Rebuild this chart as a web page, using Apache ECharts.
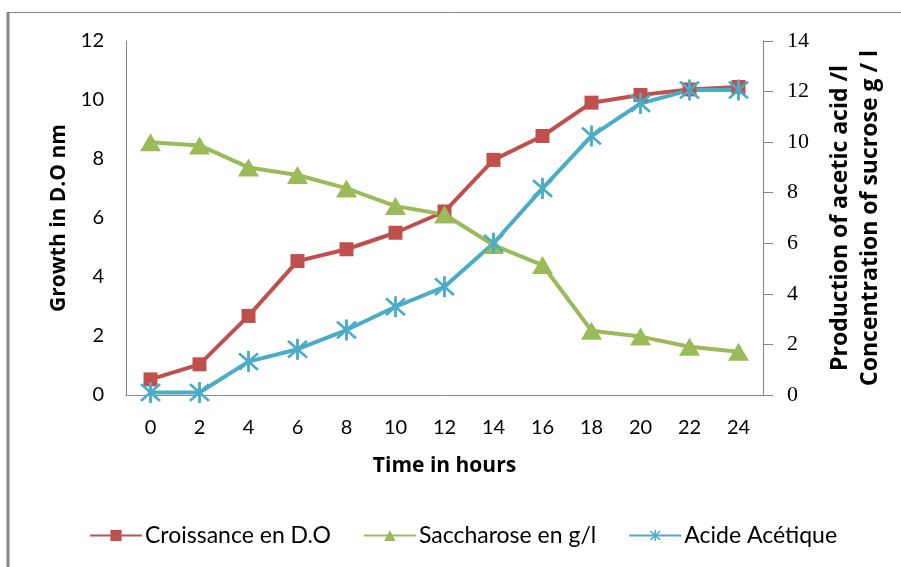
<!DOCTYPE html>
<html>
<head>
<meta charset="utf-8">
<script src="https://cdn.jsdelivr.net/npm/echarts@6/dist/echarts.min.js"></script>
<style>html,body{margin:0;padding:0;background:#fff}#c{width:901px;height:567px}</style>
</head>
<body>
<div id="c"></div>
<script>
var hours = ['0','2','4','6','8','10','12','14','16','18','20','22','24'];
var croissance = [0.53, 1.04, 2.68, 4.54, 4.94, 5.50, 6.22, 7.97, 8.78, 9.91, 10.17, 10.36, 10.44];
var saccharose = [10.0, 9.87, 9.0, 8.70, 8.17, 7.47, 7.14, 5.93, 5.14, 2.54, 2.31, 1.91, 1.71];
var acide = [0.1, 0.1, 1.32, 1.81, 2.57, 3.49, 4.28, 6.0, 8.17, 10.24, 11.53, 12.06, 12.06];
var seriesNames = ['Croissance en D.O', 'Saccharose en g/l', 'Acide Acétique'];

var star = 'path://M8.8,0 L11.2,0 L11.2,20 L8.8,20 Z M2.9,1.2 L18.8,17.1 L17.1,18.8 L1.2,2.9 Z M17.1,1.2 L18.8,2.9 L2.9,18.8 L1.2,17.1 Z';
var font = 'Lato';
var nameFont = 'Open Sans';
var chart = echarts.init(document.getElementById('c'), null, {renderer: 'canvas'});
chart.setOption({
  animation: false,
  backgroundColor: '#fff',
  graphic: [
    {type: 'line', shape: {x1: 8, y1: 567, x2: 8, y2: 12}, style: {stroke: '#868686', lineWidth: 3}},
    {type: 'line', shape: {x1: 8, y1: 12.5, x2: 901, y2: 12.5}, style: {stroke: '#868686', lineWidth: 1}}
  ],
  grid: {left: 126, right: 138, top: 41, bottom: 172, containLabel: false},
  legend: {
    left: 89, top: 524, padding: 0,
    itemWidth: 52, itemHeight: 14, itemGap: 32,
    textStyle: {fontFamily: font, fontSize: 23, color: '#000', padding: [0, 0, 0, -2]},
    data: seriesNames
  },
  xAxis: {
    type: 'category', data: hours, boundaryGap: true,
    name: 'Time in hours', nameLocation: 'middle', nameGap: 61,
    nameTextStyle: {fontFamily: nameFont, fontSize: 21, fontWeight: 'bold', color: '#000'},
    axisLine: {lineStyle: {color: '#868686', width: 1}},
    axisTick: {show: false},
    axisLabel: {fontFamily: font, fontSize: 20, color: '#000', margin: 23}
  },
  yAxis: [{
    type: 'value', min: 0, max: 12, interval: 2, position: 'left',
    name: 'Growth in D.O nm', nameLocation: 'middle', nameGap: 56,
    nameTextStyle: {fontFamily: nameFont, fontSize: 21, fontWeight: 'bold', color: '#000'},
    axisLine: {show: true, lineStyle: {color: '#868686', width: 1}},
    axisTick: {show: false},
    splitLine: {show: false},
    axisLabel: {fontFamily: font, fontSize: 20, color: '#000', margin: 22}
  }, {
    type: 'value', min: 0, max: 14, interval: 2, position: 'right',
    name: '{a|Production of acetic acid /l}\n{b|Concentration of sucrose g / l}',
    nameLocation: 'middle', nameGap: 62,
    nameTextStyle: {
      color: '#000',
      rich: {
        a: {fontFamily: nameFont, fontSize: 23, fontWeight: 'bold', lineHeight: 30, color: '#000'},
        b: {fontFamily: nameFont, fontSize: 23, fontWeight: 'bold', lineHeight: 30, color: '#000'}
      }
    },
    axisLine: {show: true, lineStyle: {color: '#868686', width: 1}},
    axisTick: {show: true, inside: false, length: 10, lineStyle: {color: '#868686'}},
    splitLine: {show: false},
    axisLabel: {fontFamily: 'Liberation Serif', fontSize: 22, color: '#000', margin: 24}
  }],
  series: [{
    name: seriesNames[0], type: 'line', yAxisIndex: 0, data: croissance,
    symbol: 'rect', symbolSize: 14,
    itemStyle: {color: '#C0504D'},
    lineStyle: {color: '#C0504D', width: 4}
  }, {
    name: seriesNames[1], type: 'line', yAxisIndex: 1, data: saccharose,
    symbol: 'triangle', symbolSize: [21, 18],
    itemStyle: {color: '#9BBB59'},
    lineStyle: {color: '#9BBB59', width: 4}
  }, {
    name: seriesNames[2], type: 'line', yAxisIndex: 1, data: acide,
    symbol: star, symbolSize: 21,
    itemStyle: {color: '#4BACC6'},
    lineStyle: {color: '#4BACC6', width: 4}
  }]
});
</script>
</body>
</html>
